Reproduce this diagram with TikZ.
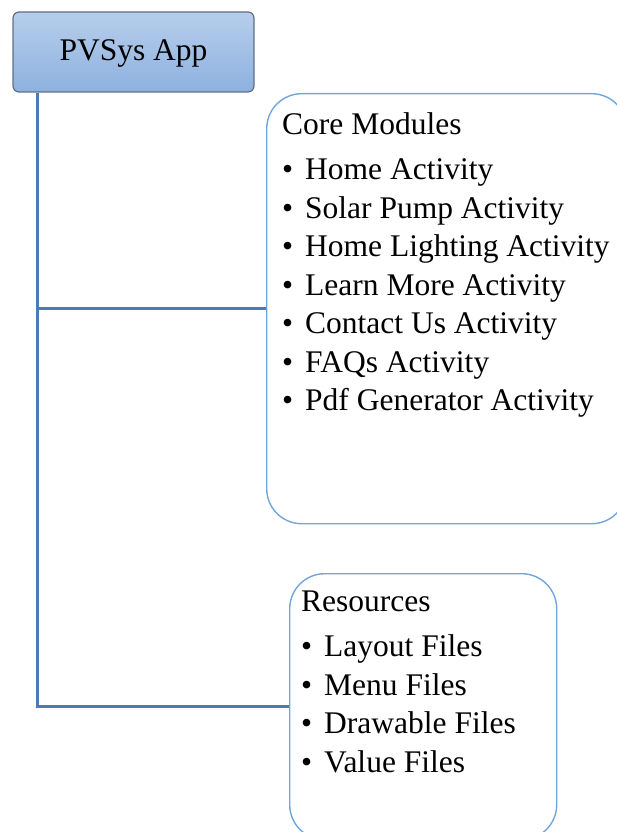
\documentclass[tikz,border=0pt]{standalone}
\usepackage{fontspec}
\setmainfont{Liberation Serif}
\definecolor{apptop}{HTML}{B7CEEB}
\definecolor{appbot}{HTML}{8DB1DF}
\definecolor{appedge}{HTML}{5F6F85}
\definecolor{boxedge}{HTML}{72A5DC}
\definecolor{trunk}{HTML}{4A7CB4}
\newcommand{\itembullet}{\textbullet\hspace{12pt}}
\tikzset{
  rootbox/.style={draw=appedge, line width=1.2pt, rounded corners=6pt,
    top color=apptop, bottom color=appbot, inner sep=0pt,
    minimum width=241pt, minimum height=80pt},
  rootlabel/.style={anchor=base, inner sep=0pt,
    font=\fontsize{31.5}{38}\selectfont},
  groupbox/.style={draw=boxedge, line width=1.4pt, rounded corners=35pt,
    inner sep=0pt, anchor=north west},
  conn/.style={draw=trunk, line width=2.6pt},
  entry/.style={anchor=base west, inner sep=0pt,
    font=\fontsize{31.5}{38}\selectfont},
}
\begin{document}
\begin{tikzpicture}[x=1pt, y=-1pt]
  \useasboundingbox (0,0) rectangle (617,832);
  \begin{scope}
    \clip (0,0) rectangle (617,832);

    % root node
    \node[rootbox] (app) at (133.5,52) {};
    \node[rootlabel] (applabel) at (133.5,61) {PVSys App};

    % group containers
    \node[groupbox, minimum width=360pt, minimum height=430pt] (core) at (266,93) {};
    \node[groupbox, minimum width=267pt, minimum height=266pt] (res) at (289,573) {};

    % tree connectors
    \draw[conn] (app.south west) ++(25,0) coordinate (t) |- (core.west);
    \draw[conn] (t) |- (res.west);

    % core modules list
    \node[entry] (c0) at (282,135) {Core Modules};
    \node[entry] (c1) at (282,179.5) {\itembullet Home Activity};
    \node[entry] (c2) at (282,218) {\itembullet Solar Pump Activity};
    \node[entry] (c3) at (282,256.5) {\itembullet Home Lighting Activity};
    \node[entry] (c4) at (282,295) {\itembullet Learn More Activity};
    \node[entry] (c5) at (282,333.5) {\itembullet Contact Us Activity};
    \node[entry] (c6) at (282,372) {\itembullet FAQs Activity};
    \node[entry] (c7) at (282,410.5) {\itembullet Pdf Generator Activity};

    % resources list
    \node[entry] (r0) at (301,611) {Resources};
    \node[entry] (r1) at (301,656.5) {\itembullet Layout Files};
    \node[entry] (r2) at (301,695) {\itembullet Menu Files};
    \node[entry] (r3) at (301,733.5) {\itembullet Drawable Files};
    \node[entry] (r4) at (301,772) {\itembullet Value Files};
  \end{scope}
\end{tikzpicture}
\end{document}
